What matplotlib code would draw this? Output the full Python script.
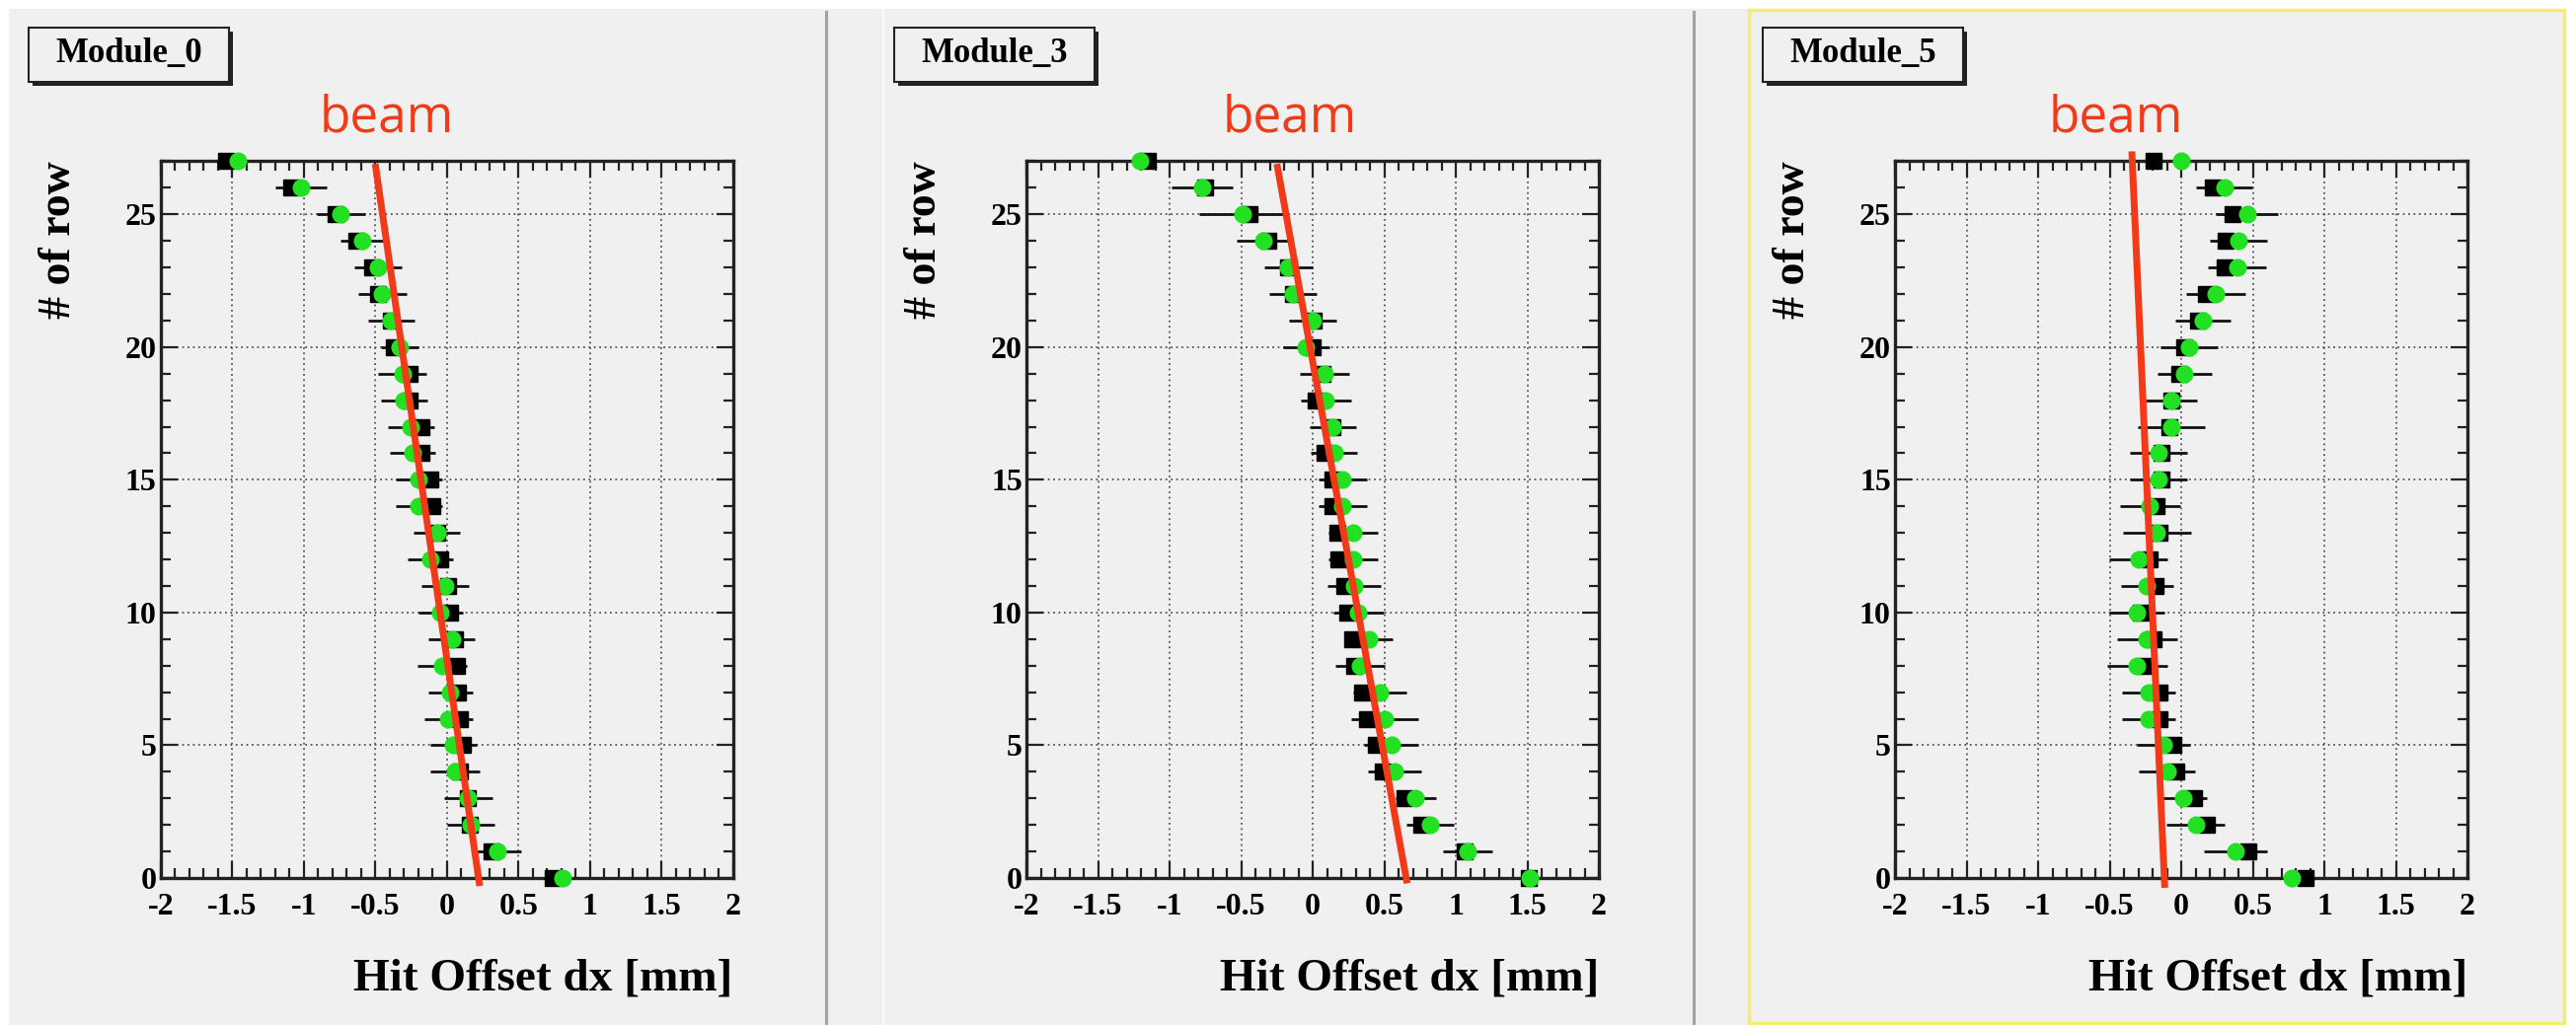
import matplotlib
matplotlib.use("Agg")
import matplotlib.pyplot as plt
from matplotlib.patches import Rectangle
from matplotlib.lines import Line2D
from matplotlib.ticker import FixedLocator, MultipleLocator

plt.rcParams['font.family'] = ['Liberation Serif', 'DejaVu Serif']
plt.rcParams['font.weight'] = 'bold'

W, H, DPI = 2610, 1039, 100

# ---------------- data (row 0 .. row 27) ----------------
rows = list(range(28))
modules = ["Module_0", "Module_3", "Module_5"]

m0_black = [0.74, 0.31, 0.16, 0.15, 0.09, 0.115, 0.092, 0.08, 0.069, 0.057, 0.023, 0.01, -0.046, -0.07,
            -0.10, -0.115, -0.18, -0.18, -0.26, -0.26, -0.37, -0.39, -0.48, -0.52, -0.63, -0.78, -1.09, -1.54]
m0_green = [0.81, 0.356, 0.17, 0.15, 0.057, 0.046, 0.011, 0.023, -0.034, 0.034, -0.046, -0.01, -0.115, -0.07,
            -0.195, -0.195, -0.24, -0.25, -0.30, -0.31, -0.33, -0.39, -0.45, -0.48, -0.59, -0.74, -1.02, -1.46]
m0_err = [0.05, 0.161, 0.166, 0.172, 0.172, 0.161, 0.167, 0.155, 0.172, 0.163, 0.155, 0.167, 0.161, 0.161,
          0.163, 0.163, 0.161, 0.161, 0.163, 0.169, 0.13, 0.163, 0.172, 0.167, 0.155, 0.167, 0.178, 0.05]

m3_black = [1.51, 1.06, 0.76, 0.64, 0.49, 0.44, 0.38, 0.345, 0.29, 0.276, 0.24, 0.22, 0.18, 0.17,
            0.14, 0.14, 0.08, 0.14, 0.023, 0.07, 0.0, 0.01, -0.14, -0.17, -0.31, -0.44, -0.75, -1.15]
m3_green = [1.52, 1.08, 0.82, 0.72, 0.575, 0.55, 0.505, 0.47, 0.33, 0.39, 0.32, 0.29, 0.28, 0.28,
            0.21, 0.21, 0.15, 0.14, 0.09, 0.08, -0.046, 0.0, -0.14, -0.17, -0.345, -0.49, -0.77, -1.21]
m3_err = [0.04, 0.172, 0.167, 0.144, 0.187, 0.19, 0.236, 0.184, 0.172, 0.167, 0.178, 0.184, 0.172, 0.172,
          0.167, 0.172, 0.163, 0.161, 0.176, 0.172, 0.164, 0.167, 0.166, 0.167, 0.184, 0.30, 0.213, 0.05]

m5_black = [0.87, 0.47, 0.18, 0.09, -0.034, -0.057, -0.15, -0.15, -0.25, -0.195, -0.28, -0.18, -0.22, -0.15,
            -0.17, -0.14, -0.14, -0.08, -0.07, -0.011, 0.023, 0.115, 0.17, 0.30, 0.31, 0.356, 0.22, -0.195]
m5_green = [0.77, 0.38, 0.10, 0.011, -0.10, -0.126, -0.23, -0.23, -0.31, -0.24, -0.31, -0.24, -0.30, -0.17,
            -0.22, -0.16, -0.16, -0.07, -0.07, 0.023, 0.057, 0.15, 0.24, 0.39, 0.40, 0.46, 0.30, 0.0]
m5_err = [0.04, 0.218, 0.203, 0.17, 0.195, 0.187, 0.187, 0.186, 0.21, 0.21, 0.195, 0.182, 0.203, 0.236,
          0.21, 0.201, 0.201, 0.236, 0.177, 0.19, 0.199, 0.192, 0.205, 0.203, 0.201, 0.218, 0.199, 0.03]

# beam line end points (x at top, y at top, x at bottom, y at bottom)
beam_x_top = [-0.50, -0.25, -0.345]
beam_y_top = [26.9, 26.9, 27.37]
beam_x_bot = [0.23, 0.66, -0.115]
beam_y_bot = [-0.3, -0.2, -0.37]
beam_label_x = [-0.42, -0.16, -0.455]

xtick_vals = [-2, -1.5, -1, -0.5, 0, 0.5, 1, 1.5, 2]
xtick_labels = ["-2", "-1.5", "-1", "-0.5", "0", "0.5", "1", "1.5", "2"]
ytick_vals = [0, 5, 10, 15, 20, 25]
ytick_labels = ["0", "5", "10", "15", "20", "25"]

blacks = [m0_black, m3_black, m5_black]
greens = [m0_green, m3_green, m5_green]
errs = [m0_err, m3_err, m5_err]

# ---------------- layout ----------------
BG = '#f0f0f0'
RED = '#f23a18'
GREEN = '#22e022'


def fx(px):
    return px / W


def fy(py):
    return 1 - py / H


fig = plt.figure(figsize=(W / DPI, H / DPI), dpi=DPI, facecolor=BG)

# decorations of the canvas
fig.add_artist(Rectangle((0, fy(9)), 1, 9 / H, transform=fig.transFigure, fc='white', ec='none'))
fig.add_artist(Rectangle((0, 0), 9 / W, 1, transform=fig.transFigure, fc='white', ec='none'))
fig.add_artist(Rectangle((fx(2599), 0), 11 / W, 1, transform=fig.transFigure, fc='white', ec='none'))
for sx in (837, 1716):
    fig.add_artist(Line2D([fx(sx), fx(sx)], [0, fy(12)], transform=fig.transFigure,
                          color='#a3a3a3', lw=2.2))
fig.add_artist(Line2D([fx(895), fx(895)], [0, fy(10)], transform=fig.transFigure,
                      color='white', lw=1.2))
fig.add_artist(Rectangle((fx(1772), fy(1037)), (2598 - 1772) / W, (1037 - 10) / H,
                         transform=fig.transFigure, fc='none', ec='#f3ee72', lw=2.5))

ax_left_px = [162.7, 1040, 1920]
ax_w_px = 580
ax_top_px, ax_bot_px = 163.4, 890

for i in range(3):
    L = ax_left_px[i]
    ax = fig.add_axes([fx(L), fy(ax_bot_px), ax_w_px / W, (ax_bot_px - ax_top_px) / H])
    ax.set_facecolor('none')
    ax.set_xlim(-2, 2)
    ax.set_ylim(0, 27)

    ax.xaxis.set_major_locator(FixedLocator(xtick_vals))
    ax.xaxis.set_minor_locator(MultipleLocator(0.1))
    ax.yaxis.set_major_locator(FixedLocator(ytick_vals))
    ax.yaxis.set_minor_locator(MultipleLocator(1))

    ax.tick_params(which='both', direction='in', top=True, right=True, width=1.6, color='#222222')
    ax.tick_params(which='major', length=12)
    ax.tick_params(which='minor', length=7.5)
    ax.tick_params(axis='x', which='major', pad=10.5)
    ax.tick_params(axis='y', which='major', pad=3)
    ax.set_xticklabels(xtick_labels, fontsize=23, fontweight='bold')
    ax.set_yticklabels(ytick_labels, fontsize=23, fontweight='bold')

    for sp in ax.spines.values():
        sp.set_linewidth(2.4)
        sp.set_color('#222222')

    ax.grid(True, which='major', color='#555555', linestyle=(0, (1, 2)), linewidth=1.3)
    ax.set_axisbelow(True)

    ax.errorbar(greens[i], rows, xerr=errs[i], fmt='none', ecolor='#111111',
                elinewidth=2.0, capsize=0, zorder=2, clip_on=False)
    ax.plot(blacks[i], rows, 's', ms=12, color='black', zorder=3, clip_on=False)
    ax.plot(greens[i], rows, 'o', ms=12, color=GREEN, mec=GREEN, zorder=4, clip_on=False)

    ax.plot([beam_x_top[i], beam_x_bot[i]], [beam_y_top[i], beam_y_bot[i]], color=RED, lw=5,
            solid_capstyle='butt', zorder=6, clip_on=False)
    ax.text(beam_label_x[i], 27 + (ax_top_px - 133) / ((ax_bot_px - ax_top_px) / 27), 'beam',
            ha='center', va='baseline', fontsize=37, fontweight='normal', color=RED,
            family=['Open Sans', 'DejaVu Sans'], clip_on=False)

    # axis titles
    fig.text(fx(L - 103), fy(ax_top_px), '# of row', rotation=90, ha='center', va='top',
             fontsize=33, fontweight='bold')
    fig.text(fx(L + ax_w_px), fy(993), 'Hit Offset dx [mm]', ha='right', va='center',
             fontsize=34, fontweight='bold')

    # module label box with shadow
    bx0, bx1, by0, by1 = L - 134, L + 69, 28, 83
    fig.add_artist(Rectangle((fx(bx0 + 4), fy(by1 + 4)), (bx1 - bx0) / W, (by1 - by0) / H,
                             transform=fig.transFigure, fc='#222222', ec='none'))
    fig.add_artist(Rectangle((fx(bx0), fy(by1)), (bx1 - bx0) / W, (by1 - by0) / H,
                             transform=fig.transFigure, fc=BG, ec='#222222', lw=1.5))
    fig.text(fx((bx0 + bx1) / 2), fy(54), modules[i], ha='center', va='center',
             fontsize=25, fontweight='bold')

fig.savefig('out.png', dpi=DPI, facecolor=BG)
